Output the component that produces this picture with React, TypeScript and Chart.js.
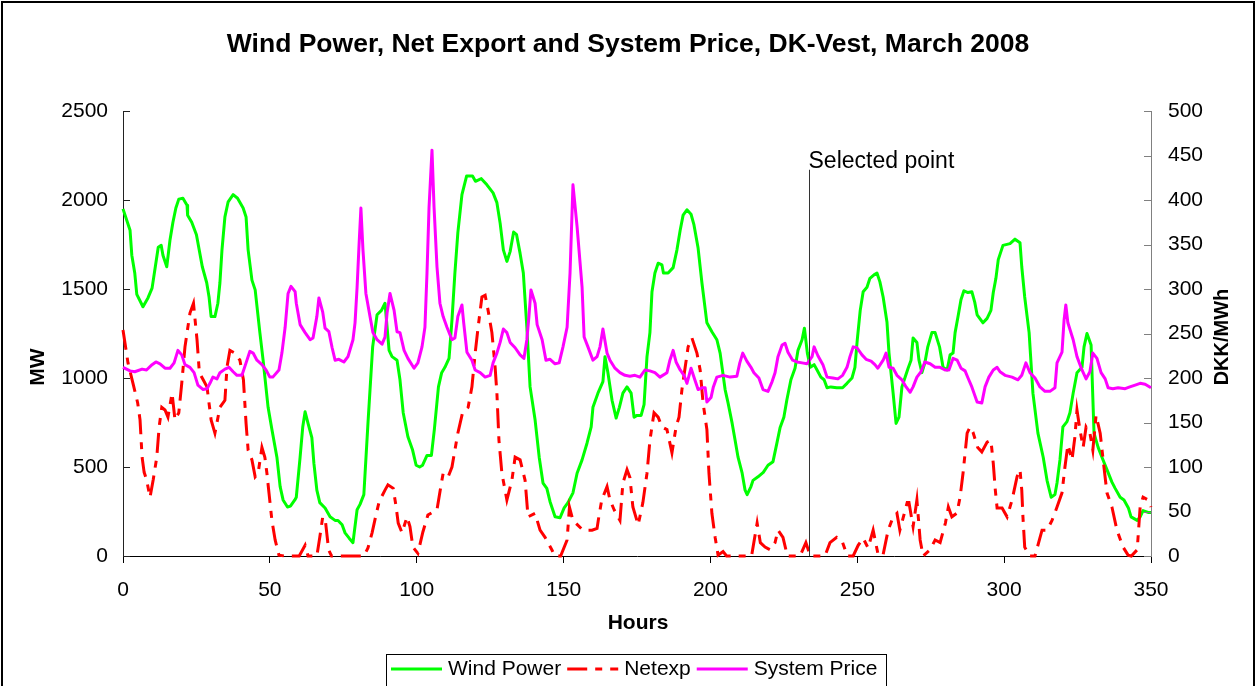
import React, { useEffect, useRef } from "react";
import { Chart, registerables } from "chart.js";

Chart.register(...registerables);

const FONT = "'Liberation Sans', Arial, Helvetica, sans-serif";

const TITLE = "Wind Power, Net Export and System Price, DK-Vest, March 2008";
const X_TITLE = "Hours";
const Y_TITLE = "MW";
const Y1_TITLE = "DKK/MWh";
const SELECTED_LABEL = "Selected point";

const xTicks = { min: 0, max: 350, step: 50 };
const yTicks = { min: 0, max: 2500, step: 500 };
const y1Ticks = { min: 0, max: 500, step: 50 };

const selectedHour = 233.5;
const selectedTopMW = 2170;

// [hour, MW]
const windPower: [number, number][] = [
  [0, 1950], [2.4, 1830], [3, 1690], [4, 1590], [4.7, 1470], [6.5, 1410], [6.8, 1400], [8.5, 1450],
  [9.9, 1505], [11, 1625], [12, 1735], [13, 1745], [13.6, 1690], [14.9, 1625], [16, 1775], [17, 1875],
  [18, 1955], [19, 2005], [20.4, 2010], [21.8, 1970], [22, 1915], [23.4, 1875], [25, 1805], [27, 1625],
  [28.5, 1535], [29.3, 1455], [30, 1345], [31.3, 1345], [32.3, 1420], [33, 1535], [33.7, 1720], [34.7, 1905],
  [35.8, 1990], [37.5, 2030], [39, 2010], [40.9, 1955], [41.9, 1905], [42.6, 1720], [43.9, 1550], [45, 1495],
  [46.6, 1255], [47.7, 1100], [49.4, 835], [50.7, 710], [52.4, 555], [53.5, 390], [54.5, 315], [56, 275],
  [57, 280], [58.5, 315], [59, 330], [60.3, 555], [61.2, 725], [62, 810], [63, 745], [64.3, 665],
  [65, 520], [66, 370], [67, 300], [68.8, 270], [70.5, 220], [72.2, 200], [73.2, 200], [74.6, 175],
  [75.6, 130], [77, 100], [78.3, 75], [79.7, 260], [80.7, 290], [82, 345], [83.4, 745], [85, 1175],
  [86.5, 1355], [88, 1380], [89.2, 1420], [90.6, 1155], [91.6, 1120], [93.3, 1100], [94.3, 990], [95.4, 805],
  [97, 670], [98.6, 595], [99.8, 510], [101, 500], [102, 510], [103.5, 565], [105, 565], [106, 710],
  [107.4, 950], [108.5, 1030], [109.6, 1060], [111, 1110], [112, 1325], [113, 1590], [114, 1815], [115.4, 2030],
  [117, 2135], [119, 2135], [120, 2105], [122, 2120], [123.9, 2085], [126, 2040], [127.3, 1985], [128.4, 1870],
  [129.5, 1720], [130.7, 1655], [131.8, 1710], [133, 1820], [134, 1805], [135.2, 1700], [136.3, 1590], [137.5, 1285],
  [138.6, 950], [140.3, 765], [141.7, 555], [143, 410], [144.3, 380], [145.4, 305], [147.1, 220], [148.8, 215],
  [150.2, 270], [151.5, 300], [153.2, 355], [154.6, 465], [156.3, 540], [158, 635], [159.4, 725], [160, 835],
  [161.7, 915], [163.4, 980], [164.1, 1120], [165.1, 1030], [166.5, 875], [167.9, 775], [169, 835], [170.2, 915],
  [171.6, 950], [173, 915], [174, 780], [175, 790], [176.4, 790], [177.4, 850], [178.4, 1120], [179.4, 1255],
  [180.1, 1485], [181.1, 1590], [182.2, 1645], [183.5, 1635], [184, 1590], [185.6, 1590], [187.3, 1620], [188.6, 1720],
  [189.7, 1830], [190.7, 1915], [192, 1945], [193.4, 1920], [194.4, 1860], [195.8, 1730], [197.1, 1535], [198.8, 1310],
  [200.5, 1260], [202.2, 1215], [203.3, 1140], [205, 935], [206, 860], [207.4, 745], [208.4, 650], [209.4, 555],
  [210.8, 465], [211.8, 370], [212.5, 345], [213.8, 390], [214.5, 425], [216.2, 445], [218, 470], [219.6, 510],
  [221.3, 530], [222.7, 640], [223.7, 720], [225, 780], [226, 875], [227.4, 990], [228.8, 1055], [229.8, 1155],
  [231.2, 1215], [232, 1280], [233, 1140], [234, 1060], [235.3, 1075], [236.3, 1045], [237.6, 1005], [238.7, 990],
  [239.7, 945], [241, 950], [243, 945], [245, 945], [246.5, 970], [248.2, 1000], [249.2, 1060], [250, 1215],
  [251, 1380], [252, 1485], [253.3, 1510], [254.3, 1560], [255.7, 1580], [256.7, 1590], [257.7, 1540], [258.8, 1455],
  [260.1, 1315], [260.8, 1140], [262.2, 915], [263.2, 745], [264.2, 780], [265.2, 950], [266, 990], [267.3, 1055],
  [268.3, 1100], [269, 1225], [270.3, 1200], [271, 1100], [272, 1030], [273, 1085], [274, 1175], [275.4, 1255],
  [276.5, 1255], [278, 1175], [279.2, 1060], [280.6, 1045], [281.6, 1130], [282.6, 1140], [283.3, 1255], [284.3, 1345],
  [285.3, 1440], [286.3, 1490], [287.7, 1480], [289, 1485], [290, 1425], [290.8, 1355], [292.8, 1310], [294.2, 1335],
  [295.5, 1380], [296.3, 1480], [297.2, 1560], [298, 1665], [299.6, 1745], [302, 1755], [303.7, 1780], [305.4, 1760],
  [306, 1625], [307, 1455], [308.5, 1255], [309.8, 915], [311.5, 690], [313.3, 555], [314.6, 425], [316, 330],
  [317.3, 345], [318, 410], [319, 540], [320, 725], [321.4, 755], [322.4, 805], [323.5, 915], [324.8, 1030],
  [326.5, 1060], [327.2, 1175], [328.2, 1250], [329.6, 1185], [330.6, 690], [332, 610], [333.3, 555], [335, 485],
  [336.7, 415], [337.8, 380], [339.5, 330], [340.8, 315], [342.3, 270], [343.2, 220], [345.3, 200], [346.3, 220],
  [347.3, 255], [349, 245], [350, 245],
];

// [hour, MW]
const netExport: [number, number][] = [
  [0, 1270], [1.7, 1085], [3.4, 970], [5, 860], [5.8, 765], [6.5, 555], [7.2, 470], [8, 430],
  [9.2, 330], [10.3, 430], [11.5, 555], [12.3, 725], [13.2, 835], [14.3, 820], [15.3, 780], [16.7, 915],
  [17.7, 765], [19, 805], [20, 970], [21.1, 1175], [22.8, 1365], [24, 1420], [25.2, 1215], [26, 1030],
  [27.3, 990], [28.6, 950], [30, 765], [31.3, 690], [33, 835], [34.7, 875], [35.4, 1060], [36.4, 1155],
  [38.1, 1140], [39.8, 1100], [41, 990], [41.9, 745], [42.6, 595], [43.9, 540], [45, 445], [46, 465],
  [47.3, 610], [48.3, 555], [49, 465], [49.7, 355], [50.7, 200], [51.8, 90], [53.1, 5], [55, 0],
  [60, 0], [62, 60], [63, 0], [66, 0], [67, 105], [68, 220], [69, 185], [70, 35],
  [71, 0], [82, 0], [83.4, 45], [84.8, 130], [86, 220], [87.2, 305], [89.2, 370], [90.2, 400],
  [92, 380], [93, 275], [93.7, 185], [95, 130], [96.7, 220], [97.7, 165], [98.7, 50], [100.4, 15],
  [102.1, 135], [103.8, 230], [106.9, 260], [108, 370], [109, 465], [110.7, 445], [112, 500], [113, 595],
  [114, 690], [115.6, 805], [117.5, 835], [118.8, 950], [119.9, 1140], [120.9, 1285], [122.2, 1455], [123.3, 1465],
  [124.3, 1380], [125.6, 1255], [126.7, 1060], [127.3, 915], [128, 650], [129, 465], [130.7, 315], [132.4, 425],
  [133.5, 555], [135.2, 540], [136.9, 425], [137.9, 220], [140.3, 240], [142, 145], [143.7, 105], [146, 35],
  [147, 0], [149, 0], [151.2, 90], [152, 275], [153.2, 200], [156.6, 145], [159.7, 145], [161.4, 155],
  [162, 220], [163, 315], [164.8, 390], [165.8, 315], [167.2, 260], [169.2, 200], [170.2, 410], [171.6, 485],
  [172.6, 440], [173.6, 275], [175.4, 175], [177, 300], [178.4, 465], [179.4, 650], [180.8, 805], [182.2, 780],
  [183.5, 725], [185.2, 710], [186.9, 580], [188.3, 725], [189.3, 780], [190.3, 935], [191.4, 1060], [192.4, 1175],
  [193.7, 1225], [195.4, 1140], [196.5, 1045], [197.5, 860], [198.8, 710], [199.5, 465], [200.5, 240], [201.6, 105],
  [202.6, 5], [204.3, 25], [205.5, 0], [214, 0], [215.9, 185], [217, 75], [218.6, 50], [220.3, 35],
  [222, 75], [223, 145], [224.7, 105], [226.2, 0], [230.5, 0], [232.5, 75], [234, 0], [239, 0],
  [240.7, 75], [243, 105], [244.7, 90], [246.6, 0], [248.6, 0], [250.3, 60], [252, 100], [253.7, 45],
  [255.4, 145], [257, 15], [258.7, 0], [260.5, 145], [262.2, 220], [263.5, 240], [264.5, 145], [267, 300],
  [267.6, 300], [269, 165], [270.3, 315], [271.4, 90], [272.4, 0], [274.8, 35], [276.5, 90], [278.2, 75],
  [280, 185], [281, 275], [282.2, 220], [283.9, 240], [285, 330], [286, 465], [287.4, 690], [288.4, 725],
  [289.4, 695], [291, 610], [292.4, 585], [294.2, 640], [295.5, 650], [296.3, 520], [297, 370], [297.6, 270],
  [299.3, 270], [301, 220], [302.7, 315], [304.4, 445], [305.4, 485], [306, 370], [306.4, 220], [307, 50],
  [308.6, 0], [310.5, 0], [312.9, 145], [314.6, 145], [316.3, 200], [318, 275], [319.7, 355], [320.7, 500],
  [321.7, 625], [323.1, 540], [324.1, 670], [324.8, 820], [325.8, 710], [326.9, 610], [327.9, 725], [329.2, 690],
  [330.2, 595], [331.3, 790], [332.7, 690], [333.7, 540], [335, 355], [336.7, 275], [338.4, 145], [340.5, 50],
  [342.2, 5], [343.3, 0], [345.3, 35], [346.3, 275], [347.3, 330], [349, 315], [350, 275],
];

// [hour, DKK/MWh]
const systemPrice: [number, number][] = [
  [0, 212], [2.4, 208], [4, 207], [6.5, 210], [8, 209], [9.9, 215], [11.2, 218], [12.6, 216],
  [14.3, 211], [16, 211], [17.4, 217], [18.7, 231], [20, 226], [21.1, 215], [22.8, 212], [24.2, 206],
  [25.5, 192], [27.3, 187], [28.6, 188], [29.6, 194], [30.6, 201], [32, 199], [33, 206], [34.7, 210],
  [36.1, 212], [37.5, 207], [38.8, 203], [40.5, 203], [41.9, 217], [43.2, 230], [44.3, 228], [45.6, 220],
  [47.3, 215], [48.7, 209], [50, 201], [51, 201], [53.1, 209], [54.1, 228], [55.2, 257], [56.2, 295],
  [57.2, 303], [58.6, 297], [59, 284], [60.3, 260], [62, 251], [63.7, 243], [64.7, 245], [66, 269],
  [66.7, 290], [68, 274], [68.8, 256], [70.1, 252], [71.2, 234], [72.2, 220], [73.5, 221], [75.2, 218],
  [76.6, 224], [78.3, 243], [79, 262], [79.7, 302], [80.4, 352], [81, 391], [81.7, 344], [82.7, 295],
  [84.1, 269], [85.1, 251], [86.5, 243], [88.2, 238], [89.2, 246], [89.9, 273], [90.9, 295], [92.3, 276],
  [93.3, 252], [94.3, 251], [95.7, 231], [97, 222], [99.1, 211], [100.4, 217], [101.8, 235], [102.8, 257],
  [103.5, 318], [104.2, 392], [105.2, 456], [105.9, 392], [106.9, 325], [107.9, 284], [109, 269], [110.3, 257],
  [112, 243], [113, 245], [114, 269], [115.4, 282], [116, 262], [117.1, 229], [118.8, 220], [119.9, 209],
  [121.6, 206], [123.3, 201], [125, 203], [126, 217], [127.3, 228], [128.4, 240], [129.5, 255], [130.7, 251],
  [131.8, 240], [133.5, 234], [135.2, 226], [136.5, 222], [137.5, 243], [138.2, 269], [138.9, 299], [140.3, 284],
  [141, 260], [142.7, 243], [144, 220], [145.4, 221], [147.1, 216], [148.5, 217], [149.8, 235], [151.2, 257],
  [152.2, 318], [153.2, 417], [154.6, 370], [156.3, 302], [157, 246], [158.3, 235], [160, 220], [161.4, 224],
  [162.4, 235], [163.4, 255], [164.8, 228], [165.8, 220], [167.5, 211], [169.2, 206], [170.9, 203], [172.6, 202],
  [174.3, 203], [176, 201], [177.7, 209], [179.4, 208], [181.1, 206], [182.8, 201], [185.2, 206], [186.2, 220],
  [187.3, 231], [188.3, 218], [189.7, 209], [191, 203], [192, 194], [193.4, 211], [194.8, 197], [195.8, 187],
  [197.1, 189], [198.2, 189], [198.8, 173], [200.2, 178], [201, 190], [202.2, 201], [204.3, 203], [206.7, 201],
  [209, 202], [210, 217], [211, 228], [212.4, 219], [213.8, 212], [214.8, 206], [216.5, 200], [217.9, 187],
  [219.6, 185], [221, 196], [222, 206], [223, 224], [224.4, 237], [225.4, 239], [226.4, 229], [228, 220],
  [229.5, 218], [231.2, 217], [232.9, 216], [234.6, 224], [235.3, 235], [236.6, 225], [238.3, 215], [239.7, 201],
  [241.7, 200], [243.4, 199], [245, 203], [246.5, 212], [247.5, 224], [248.6, 235], [249.9, 234], [251.6, 226],
  [253, 221], [254.7, 219], [256, 215], [257, 211], [258.8, 220], [259.8, 228], [260.8, 212], [262.2, 211],
  [263.5, 203], [265.2, 198], [266.6, 190], [268, 184], [269, 190], [270.3, 201], [271.7, 207], [273, 218],
  [274.8, 216], [276.5, 212], [278.2, 212], [279.9, 209], [281.2, 209], [282.6, 222], [284, 220], [285.3, 211],
  [286.7, 208], [287.7, 200], [289, 190], [290.8, 173], [292.4, 172], [293.5, 190], [294.8, 201], [296.3, 209],
  [297.6, 212], [298.6, 207], [300.3, 203], [302.7, 201], [304.7, 198], [306, 203], [307.4, 217], [308.8, 206],
  [310.5, 200], [312.2, 190], [313.9, 185], [315.6, 185], [317.3, 189], [318, 217], [319.7, 229], [320.4, 265],
  [321, 282], [321.7, 262], [323.5, 243], [324.8, 224], [326.5, 209], [327.9, 199], [329.2, 207], [330.2, 228],
  [331.6, 222], [333, 206], [334.4, 199], [335.4, 189], [337, 188], [338.8, 189], [341.2, 188], [342.8, 190],
  [344.6, 192], [346.3, 194], [348, 193], [350, 189],
];

const toXY = (pairs: [number, number][]) => pairs.map(([x, y]) => ({ x, y }));
const plainTick = (v: any) => String(v);

const decorPlugin = {
  id: "decor",
  afterDraw(chart: any) {
    const ctx: CanvasRenderingContext2D = chart.ctx;
    const area = chart.chartArea;
    const sx = chart.scales.x;
    const sy = chart.scales.y;
    const sy1 = chart.scales.y1;
    ctx.save();

    // outer frame
    ctx.strokeStyle = "#000";
    ctx.lineWidth = 2;
    ctx.strokeRect(2, 2, chart.width - 4, chart.height + 40);

    // inward tick marks on the value axes
    ctx.lineWidth = 1;
    ctx.strokeStyle = "#222";
    sy.ticks.forEach((t: any) => {
      const py = Math.round(sy.getPixelForValue(t.value)) + 0.5;
      ctx.beginPath();
      ctx.moveTo(area.left, py);
      ctx.lineTo(area.left + 7, py);
      ctx.stroke();
    });
    ctx.strokeStyle = "#808080";
    sy1.ticks.forEach((t: any) => {
      const py = Math.round(sy1.getPixelForValue(t.value)) + 0.5;
      ctx.beginPath();
      ctx.moveTo(area.right, py);
      ctx.lineTo(area.right - 7, py);
      ctx.stroke();
    });

    // axis titles
    ctx.fillStyle = "#000";
    ctx.textAlign = "center";
    ctx.textBaseline = "middle";
    ctx.font = `bold 21px ${FONT}`;
    ctx.fillText(X_TITLE, (area.left + area.right) / 2 + 1, 623);
    ctx.save();
    ctx.translate(38, 367);
    ctx.rotate(-Math.PI / 2);
    ctx.fillText(Y_TITLE, 0, 0);
    ctx.restore();
    ctx.save();
    ctx.font = `bold 20px ${FONT}`;
    ctx.translate(1222, 337);
    ctx.rotate(-Math.PI / 2);
    ctx.fillText(Y1_TITLE, 0, 0);
    ctx.restore();

    // selected point marker
    const px = Math.round(sx.getPixelForValue(selectedHour)) + 0.5;
    const top = sy.getPixelForValue(selectedTopMW);
    ctx.strokeStyle = "#333";
    ctx.lineWidth = 1;
    ctx.beginPath();
    ctx.moveTo(px, top);
    ctx.lineTo(px, area.bottom);
    ctx.stroke();
    ctx.font = `23px ${FONT}`;
    ctx.textAlign = "left";
    ctx.textBaseline = "alphabetic";
    ctx.fillText(SELECTED_LABEL, px - 1, top - 2);

    // legend
    const lx = 386;
    const ly = 654;
    const legendY = 669;
    ctx.strokeStyle = "#000";
    ctx.lineWidth = 1;
    ctx.strokeRect(lx + 0.5, ly + 0.5, 500, 60);
    ctx.font = `21px ${FONT}`;
    ctx.textBaseline = "middle";
    let cx = lx + 5;
    chart.data.datasets.forEach((ds: any) => {
      ctx.save();
      ctx.strokeStyle = ds.borderColor;
      ctx.lineWidth = 3;
      ctx.setLineDash(ds.borderDash || []);
      ctx.beginPath();
      ctx.moveTo(cx, legendY);
      ctx.lineTo(cx + 51, legendY);
      ctx.stroke();
      ctx.restore();
      cx += 57;
      ctx.fillStyle = "#000";
      ctx.fillText(ds.label, cx, legendY);
      cx += ctx.measureText(ds.label).width + 6;
    });

    ctx.restore();
  },
};

export default function App() {
  const canvasRef = useRef<HTMLCanvasElement | null>(null);

  useEffect(() => {
    const canvas = canvasRef.current;
    if (!canvas) return;
    Chart.defaults.font.family = FONT;
    const tickFont = { family: FONT, size: 21 };
    const chart = new Chart(canvas, {
      type: "line",
      data: {
        datasets: [
          {
            label: "Wind Power",
            data: toXY(windPower),
            borderColor: "#00FF00",
            backgroundColor: "#00FF00",
            borderWidth: 3,
            pointRadius: 0,
            tension: 0,
            borderJoinStyle: "round",
            yAxisID: "y",
            order: 3,
            clip: 4,
          },
          {
            label: "Netexp",
            data: toXY(netExport),
            borderColor: "#FF0000",
            backgroundColor: "#FF0000",
            borderWidth: 3,
            borderDash: [20, 8, 7, 8],
            pointRadius: 0,
            tension: 0,
            yAxisID: "y",
            order: 2,
            clip: 4,
          },
          {
            label: "System Price",
            data: toXY(systemPrice),
            borderColor: "#FF00FF",
            backgroundColor: "#FF00FF",
            borderWidth: 3,
            pointRadius: 0,
            tension: 0,
            borderJoinStyle: "round",
            yAxisID: "y1",
            order: 1,
            clip: 4,
          },
        ],
      },
      options: {
        responsive: false,
        animation: false,
        events: [],
        layout: { padding: 0 },
        plugins: {
          legend: { display: false },
          tooltip: { enabled: false },
          title: {
            display: true,
            text: TITLE,
            color: "#000",
            font: { family: FONT, size: 26.5, weight: "bold" },
            padding: { top: 29, bottom: 50.2 },
          },
        },
        scales: {
          x: {
            type: "linear",
            position: "bottom",
            min: xTicks.min,
            max: xTicks.max,
            ticks: { stepSize: xTicks.step, color: "#000", font: tickFont, padding: 15, maxRotation: 0, autoSkip: false, callback: plainTick },
            grid: { drawOnChartArea: false, drawTicks: true, tickLength: 7, color: "#000", tickColor: "#000" },
            border: { display: true, color: "#000", width: 1 },
            afterFit: (s: any) => {
              s.height = 130;
            },
          },
          y: {
            type: "linear",
            position: "left",
            min: yTicks.min,
            max: yTicks.max,
            ticks: { stepSize: yTicks.step, color: "#000", font: tickFont, padding: 15, callback: plainTick },
            grid: { drawOnChartArea: false, drawTicks: false },
            border: { display: true, color: "#222", width: 1 },
            afterFit: (s: any) => {
              s.width = 123;
            },
          },
          y1: {
            type: "linear",
            position: "right",
            min: y1Ticks.min,
            max: y1Ticks.max,
            ticks: { stepSize: y1Ticks.step, color: "#000", font: tickFont, padding: 17, callback: plainTick },
            grid: { drawOnChartArea: false, drawTicks: false },
            border: { display: true, color: "#808080", width: 1 },
            afterFit: (s: any) => {
              s.width = 105;
            },
          },
        },
      },
      plugins: [decorPlugin],
    } as any);
    return () => chart.destroy();
  }, []);

  return (
    <div style={{ position: "fixed", left: 0, top: 0, width: 1256, height: 686, background: "#fff", overflow: "hidden" }}>
      <canvas ref={canvasRef} width={1256} height={686} style={{ width: 1256, height: 686, display: "block" }} />
    </div>
  );
}
